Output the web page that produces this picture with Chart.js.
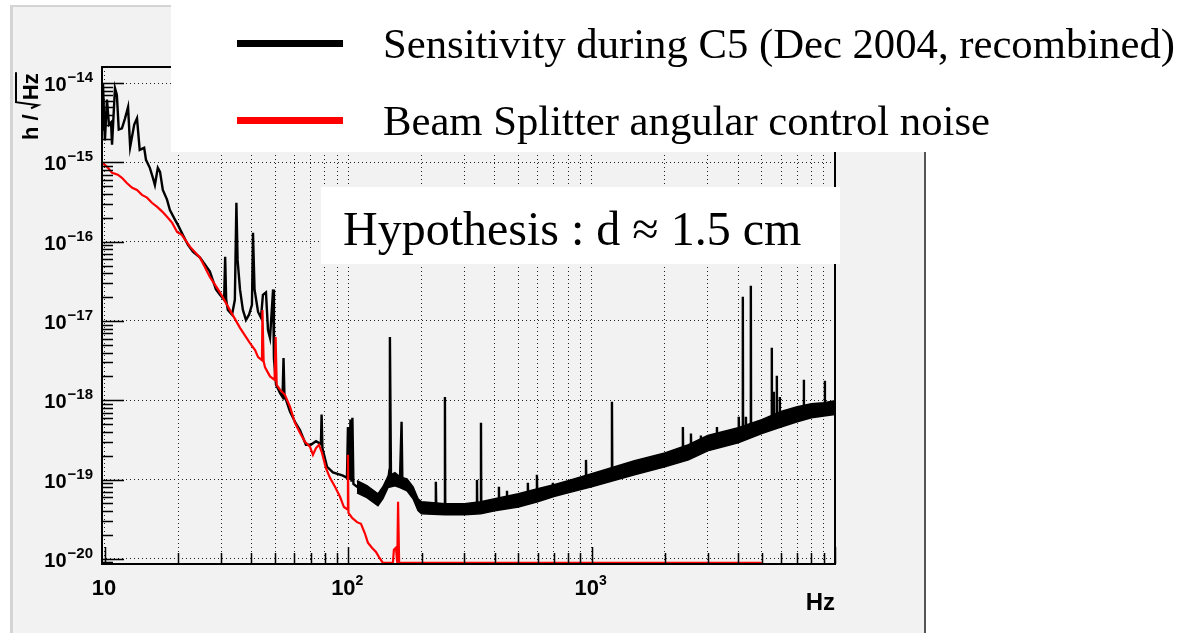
<!DOCTYPE html>
<html lang="en">
<head>
    <meta charset="UTF-8">
    <title>Sensitivity during C5</title>
    <style>
        body { margin: 0; background: #fff; }
        canvas { display: block; }
    </style>
</head>
<body>
    <canvas id="chart" width="1183" height="633"></canvas>
    <script src="https://cdn.jsdelivr.net/npm/chart.js"></script>
    <script>
        // black trace: sensitivity during C5, [Hz, h/sqrt(Hz)]
        const sensitivity = [
            [9.73, 2.6e-15], [9.82, 1.0e-14], [10.0, 1.9e-15], [10.2, 6.2e-15], [10.39, 3.0e-15],
            [10.6, 3.2e-15], [10.7, 1.67e-15], [11.0, 8.7e-15], [11.2, 7.1e-15], [11.4, 2.6e-15],
            [11.75, 2.7e-15], [12.1, 3.6e-15], [12.45, 5.0e-15], [12.7, 1.57e-15], [13.2, 3.0e-15],
            [13.55, 3.6e-15], [13.9, 1.44e-15], [14.5, 1.53e-15], [14.75, 1.08e-15], [15.3, 8.55e-16],
            [15.75, 6.4e-16], [16.05, 5.2e-16], [16.5, 8.55e-16], [16.85, 7.6e-16], [17.3, 4.5e-16],
            [18.0, 3.4e-16], [18.5, 2.5e-16], [19.4, 1.9e-16], [19.95, 1.63e-16], [20.9, 1.22e-16],
            [21.95, 9.1e-17], [23.0, 7.5e-17], [24.6, 6.3e-17], [27.0, 4.2e-17], [28.6, 2.5e-17],
            [29.7, 2.14e-17], [30.9, 1.85e-17], [31.2, 6.45e-17], [31.5, 1.85e-17], [32.0, 1.38e-17],
            [33.3, 1.2e-17], [34.2, 1.85e-17], [34.7, 3.1e-16], [35.1, 5.9e-17], [35.9, 2.5e-17],
            [36.9, 1.38e-17], [38.0, 1.03e-17], [39.1, 1.2e-17], [40.2, 1.6e-17], [40.6, 1.3e-16],
            [41.2, 2.5e-17], [42.6, 1.3e-17], [43.8, 1.1e-17], [44.6, 2.14e-17], [45.9, 2.3e-17],
            [46.8, 7.7e-18], [47.7, 6.1e-18], [49.1, 2.5e-17], [49.5, 3.35e-18], [50.5, 1.57e-18],
            [52.4, 1.24e-18], [53.7, 1.1e-18], [54.2, 3.4e-18], [54.7, 1.08e-18], [55.5, 1.01e-18],
            [57.6, 7.2e-19], [60.4, 5.35e-19], [63.3, 4.2e-19], [67.0, 2.75e-19], [70.2, 2.75e-19],
            [73.7, 3.05e-19], [77.2, 2.8e-19], [77.7, 6.6e-19], [78.3, 2.5e-19], [81.8, 1.45e-19],
            [86.5, 1.23e-19], [95.1, 1.12e-19], [98.8, 1.05e-19], [99.7, 4.6e-19], [100.7, 9.9e-20],
            [102.1, 5.7e-19], [103.1, 9.4e-20], [104.0, 6.0e-19], [105, 8.8e-20], [108.6, 8.1e-20],
            [119.3, 7.0e-20], [132.4, 5.6e-20], [138.8, 6.8e-20], [145.6, 9.4e-20], [147.7, 1.33e-19],
            [148.3, 6.3e-18], [149.8, 1.05e-19], [155.5, 1.0e-19], [163, 9.4e-20], [165.6, 5.35e-19],
            [166.9, 9.1e-20], [174.3, 8.6e-20], [184.6, 6.8e-20], [193.5, 4.8e-20], [210, 4.4e-20],
            [228, 4.2e-20], [229, 9.4e-20], [230, 4.2e-20], [249, 4.2e-20], [249.6, 1.1e-18],
            [250.3, 4.2e-20], [300, 4.2e-20], [337, 4.4e-20], [338, 9.9e-20], [339, 4.4e-20],
            [350, 4.4e-20], [351, 5.2e-19], [352, 4.4e-20], [400, 4.8e-20], [415, 4.9e-20],
            [416, 8.1e-20], [417, 4.9e-20], [448, 5.1e-20], [449, 7.2e-20], [450, 5.1e-20],
            [500, 5.5e-20], [545, 5.8e-20], [547, 9.1e-20], [549, 5.8e-20], [594, 6.2e-20],
            [596, 1.15e-19], [598, 6.2e-20], [691, 7.1e-20], [693, 9.1e-20], [695, 7.1e-20],
            [800, 8.1e-20], [945, 9.3e-20], [948, 1.77e-19], [951, 9.3e-20], [1000, 9.8e-20],
            [1208, 1.15e-19], [1212, 9.6e-19], [1216, 1.15e-19], [1500, 1.42e-19], [2000, 1.78e-19],
            [2364, 2.1e-19], [2371, 4.6e-19], [2378, 2.1e-19], [2500, 2.2e-19], [2552, 2.25e-19],
            [2559, 3.8e-19], [2566, 2.25e-19], [2805, 2.6e-19], [2812, 3.6e-19], [2819, 2.6e-19],
            [3000, 2.9e-19], [3265, 3.0e-19], [3273, 4.6e-19], [3281, 3.0e-19], [4000, 3.6e-19],
            [4018, 3.6e-19], [4028, 6.2e-19], [4038, 3.6e-19], [4171, 3.7e-19], [4181, 2.02e-17],
            [4191, 3.7e-19], [4295, 3.8e-19], [4305, 6.2e-19], [4315, 3.8e-19], [4500, 4.0e-19],
            [4510, 2.78e-17], [4520, 4.0e-19], [5000, 4.6e-19], [5490, 5.1e-19], [5500, 4.6e-18],
            [5510, 5.1e-19], [5597, 5.2e-19], [5607, 1.28e-18], [5617, 5.2e-19], [5758, 5.4e-19],
            [5768, 2.04e-18], [5778, 5.4e-19], [5922, 5.6e-19], [5932, 1.1e-18], [5942, 5.6e-19],
            [6000, 5.8e-19], [7000, 6.7e-19], [7437, 7.0e-19], [7447, 1.81e-18], [7457, 7.0e-19],
            [8000, 7.4e-19], [9000, 7.7e-19], [9075, 7.7e-19], [9085, 1.76e-18], [9095, 7.7e-19],
            [10000, 8.1e-19]
        ];

        // thickness of the noisy black band above ~110 Hz: [Hz, lower edge, upper edge]
        const sensBand = [
            [108.6, 6.8e-20, 9.65e-20], [119.3, 5.9e-20, 8.35e-20], [132.4, 4.67e-20, 6.6e-20],
            [138.8, 5.73e-20, 8.1e-20], [145.6, 7.9e-20, 1.1e-19], [155.5, 8.35e-20, 1.22e-19],
            [163, 7.9e-20, 1.08e-19], [174.3, 7.2e-20, 1.02e-19], [184.6, 5.73e-20, 8.1e-20],
            [193.5, 4.05e-20, 5.73e-20],
            [200, 3.7e-20, 5.25e-20], [250, 3.6e-20, 4.95e-20], [300, 3.6e-20, 4.95e-20],
            [350, 3.7e-20, 5.25e-20], [400, 4.05e-20, 5.73e-20], [500, 4.5e-20, 6.6e-20],
            [600, 5.25e-20, 7.65e-20], [700, 6.1e-20, 8.6e-20], [800, 6.8e-20, 9.65e-20],
            [1000, 8.1e-20, 1.18e-19], [1500, 1.15e-19, 1.73e-19], [2000, 1.45e-19, 2.17e-19],
            [2500, 1.77e-19, 2.75e-19], [3000, 2.3e-19, 3.6e-19], [4000, 2.9e-19, 4.5e-19],
            [5000, 3.8e-19, 5.7e-19], [6000, 4.6e-19, 7.2e-19], [7000, 5.35e-19, 8.3e-19],
            [8000, 6.0e-19, 9.05e-19], [9000, 6.35e-19, 9.3e-19], [10000, 6.6e-19, 9.86e-19]
        ];

        // red trace: beam splitter angular control noise (sits on the floor above ~140 Hz)
        const bsNoise = [
            [9.73, 9.9e-16], [10.0, 9.3e-16], [10.3, 8.55e-16], [10.7, 7.4e-16], [11.3, 7.0e-16],
            [11.75, 6.4e-16], [12.3, 5.5e-16], [12.95, 4.8e-16], [13.55, 4.5e-16], [14.2, 3.9e-16],
            [14.9, 3.6e-16], [15.6, 3.1e-16], [16.4, 2.75e-16], [17.2, 2.4e-16], [18.0, 2.06e-16],
            [18.9, 1.73e-16], [19.8, 1.33e-16], [20.7, 1.22e-16], [22.4, 8.6e-17], [24.6, 6.3e-17],
            [27.0, 3.6e-17], [29.7, 2.3e-17], [32.6, 1.38e-17], [35.9, 8.2e-18], [39.4, 5.3e-18],
            [41.4, 4.3e-18], [42.6, 3.5e-18], [44.2, 3.2e-18], [44.4, 1.38e-17], [44.9, 3.1e-18],
            [45.5, 2.6e-18], [47.7, 2.0e-18], [49.8, 1.81e-18], [50.3, 6.3e-18], [50.8, 1.57e-18],
            [52.4, 1.36e-18], [54.9, 1.17e-18], [57.6, 8.3e-19], [60.4, 5.2e-19], [63.3, 3.9e-19],
            [66.4, 3.0e-19], [69.6, 2.6e-19], [71.6, 2.05e-19], [73.7, 2.5e-19], [75.8, 2.75e-19],
            [78.0, 2.17e-19], [80.9, 1.4e-19], [84.1, 1.05e-19], [88.2, 8.1e-20], [92.4, 6.1e-20],
            [96.0, 4.5e-20], [99.2, 4.2e-20], [99.7, 2.05e-19], [100.2, 3.8e-20], [103.6, 3.3e-20],
            [108.6, 2.9e-20], [112.8, 2.77e-20], [117.0, 2.1e-20], [120.4, 1.6e-20], [125.1, 1.38e-20],
            [130, 1.22e-20], [133.6, 1.06e-20], [138.8, 8.9e-21], [152.6, 8.9e-21], [154, 1.3e-20],
            [157, 1.38e-20], [159, 8.9e-21], [160.2, 5.25e-20], [161.8, 8.9e-21], [5000, 8.9e-21]
        ];

        const xTickValues = [10, 100, 1000];
        const xTickExps = ['', '2', '3'];
        const yTickValues = [1e-14, 1e-15, 1e-16, 1e-17, 1e-18, 1e-19, 1e-20];
        const yTickExps = ['\u221214', '\u221215', '\u221216', '\u221217', '\u221218', '\u221219', '\u221220'];
        const legendLabels = ['Sensitivity during C5 (Dec 2004, recombined)', 'Beam Splitter angular control noise'];
        const legendColors = ['#000000', '#ff0000'];
        const noteText = 'Hypothesis : d \u2248 1.5 cm';

        const SANS = "'Liberation Sans', Arial, sans-serif";
        const SERIF = "'Liberation Serif', 'Times New Roman', serif";

        const toXY = arr => arr.map(p => ({ x: p[0], y: p[1] }));

        // every 1..9 x 10^n inside the range, for the dotted x grid
        const xGrid = [];
        [10, 100, 1000].forEach(d => { for (let m = 1; m <= 9; m++) xGrid.push(m * d); });
        xGrid.push(10000);

        const decor = {
            id: 'decor',
            beforeDraw(chart) {
                const c = chart.ctx;
                c.save();
                c.fillStyle = '#ffffff';
                c.fillRect(0, 0, chart.width, chart.height);
                c.fillStyle = '#f2f2f2';
                c.fillRect(10, 5, 916, 628);
                c.fillStyle = '#d4d4d4';
                c.fillRect(10, 5, 3, 628);
                c.fillRect(10, 5, 916, 2);
                c.fillStyle = '#555555';
                c.fillRect(924, 5, 2, 628);
                c.restore();
            },
            afterDatasetsDraw(chart) {
                const c = chart.ctx, a = chart.chartArea;
                const xs = chart.scales.x, ys = chart.scales.y;
                c.save();
                c.strokeStyle = '#000';
                c.lineWidth = 1.5;
                c.beginPath();
                // inward tick marks, long on decades
                for (let e = -21; e <= -13; e++) {
                    for (let m = 1; m <= 9; m++) {
                        const v = m * Math.pow(10, e);
                        if (v < ys.min || v > ys.max) continue;
                        const py = Math.round(ys.getPixelForValue(v)) + 0.5;
                        c.moveTo(a.left, py);
                        c.lineTo(a.left + (m === 1 ? 22 : 11), py);
                    }
                }
                xGrid.forEach(v => {
                    if (v < xs.min || v > xs.max) return;
                    const px = Math.round(xs.getPixelForValue(v)) + 0.5;
                    const major = Math.abs(Math.log10(v) - Math.round(Math.log10(v))) < 1e-6;
                    c.moveTo(px, a.bottom);
                    c.lineTo(px, a.bottom - (major ? 17 : 11));
                });
                c.stroke();
                c.lineWidth = 2;
                c.strokeRect(a.left, a.top, a.right - a.left, a.bottom - a.top);
                c.restore();
            },
            afterDraw(chart) {
                const c = chart.ctx;
                const xs = chart.scales.x, ys = chart.scales.y;
                c.save();
                c.fillStyle = '#000';
                c.textBaseline = 'alphabetic';

                // y tick labels 10^-n
                yTickValues.forEach((v, i) => {
                    const py = ys.getPixelForValue(v);
                    c.textAlign = 'right';
                    c.font = 'bold 15px ' + SANS;
                    const we = c.measureText(yTickExps[i]).width;
                    c.fillText(yTickExps[i], 93, py - 1);
                    c.font = 'bold 20px ' + SANS;
                    c.fillText('10', 93 - we - 1, py + 8);
                });

                // x tick labels
                xTickValues.forEach((v, i) => {
                    const px = xs.getPixelForValue(v);
                    const exp = xTickExps[i];
                    c.textAlign = 'left';
                    c.font = 'bold 14px ' + SANS;
                    const we = exp ? c.measureText(exp).width : 0;
                    c.font = 'bold 22px ' + SANS;
                    const wb = c.measureText('10').width;
                    const left = px - (wb + we) / 2 - 1;
                    c.fillText('10', left, 595);
                    if (exp) {
                        c.font = 'bold 14px ' + SANS;
                        c.fillText(exp, left + wb, 585);
                    }
                });

                // axis titles
                c.textAlign = 'right';
                c.font = 'bold 24px ' + SANS;
                c.fillText('Hz', 835, 610);

                c.save();
                c.translate(38, 140);
                c.rotate(-Math.PI / 2);
                c.textAlign = 'left';
                c.font = 'bold 22px ' + SANS;
                const w1 = c.measureText('h / ').width;
                const w2 = c.measureText('Hz').width;
                c.fillText('h / ', 0, 0);
                c.fillText('Hz', w1 + 8, 0);
                c.lineWidth = 2;
                c.strokeStyle = '#000';
                c.beginPath();
                c.moveTo(w1, -7);
                c.lineTo(w1 + 3, 0);
                c.lineTo(w1 + 6, -22);
                c.lineTo(w1 + 8 + w2 + 1, -22);
                c.stroke();
                c.restore();

                // legend box on top of the plot
                c.fillStyle = '#ffffff';
                c.fillRect(171, 0, chart.width - 171, 152);
                const rows = [43.5, 120.5];
                legendLabels.forEach((txt, i) => {
                    c.fillStyle = legendColors[i];
                    c.fillRect(237, rows[i] - 3.5, 106, 7);
                    c.fillStyle = '#000';
                    c.textAlign = 'left';
                    c.font = '42.7px ' + SERIF;
                    c.fillText(txt, 383, rows[i] + 14);
                });

                // hypothesis annotation
                c.fillStyle = '#ffffff';
                c.fillRect(321, 187, 519, 77);
                c.fillStyle = '#000';
                c.font = '48px ' + SERIF;
                c.fillText(noteText, 343, 245);
                c.restore();
            }
        };

        const ctx = document.getElementById('chart').getContext('2d');
        const chart = new Chart(ctx, {
            type: 'line',
            data: {
                datasets: [
                    {
                        label: legendLabels[1],
                        data: toXY(bsNoise),
                        borderColor: legendColors[1],
                        borderWidth: 2.2,
                        pointRadius: 0,
                        fill: false
                    },
                    {
                        label: legendLabels[0],
                        data: toXY(sensitivity),
                        borderColor: legendColors[0],
                        borderWidth: 2.4,
                        pointRadius: 0,
                        fill: false
                    },
                    {
                        label: 'band low',
                        data: sensBand.map(p => ({ x: p[0], y: p[1] })),
                        borderColor: '#000',
                        borderWidth: 1.5,
                        pointRadius: 0,
                        fill: false
                    },
                    {
                        label: 'band high',
                        data: sensBand.map(p => ({ x: p[0], y: p[2] })),
                        borderColor: '#000',
                        borderWidth: 1.5,
                        pointRadius: 0,
                        backgroundColor: '#000',
                        fill: '-1'
                    }
                ]
            },
            options: {
                responsive: false,
                animation: false,
                devicePixelRatio: 1,
                layout: { padding: { left: 0, top: 67, right: 348, bottom: 0 } },
                plugins: {
                    legend: { display: false },
                    tooltip: { enabled: false }
                },
                elements: { line: { tension: 0 } },
                scales: {
                    x: {
                        type: 'logarithmic',
                        min: 9.73,
                        max: 10000,
                        bounds: 'data',
                        afterFit: s => { s.height = 69; },
                        afterBuildTicks: s => { s.ticks = xGrid.map(v => ({ value: v })); },
                        ticks: { display: false },
                        grid: { color: '#222', lineWidth: 1, drawTicks: false },
                        border: { display: false, dash: [1, 3] }
                    },
                    y: {
                        type: 'logarithmic',
                        min: 8.6e-21,
                        max: 1.6e-14,
                        bounds: 'data',
                        afterFit: s => { s.width = 102; },
                        afterBuildTicks: s => { s.ticks = yTickValues.map(v => ({ value: v })); },
                        ticks: { display: false },
                        grid: { color: '#222', lineWidth: 1, drawTicks: false },
                        border: { display: false, dash: [1, 3] }
                    }
                }
            },
            plugins: [decor]
        });
    </script>
</body>
</html>
